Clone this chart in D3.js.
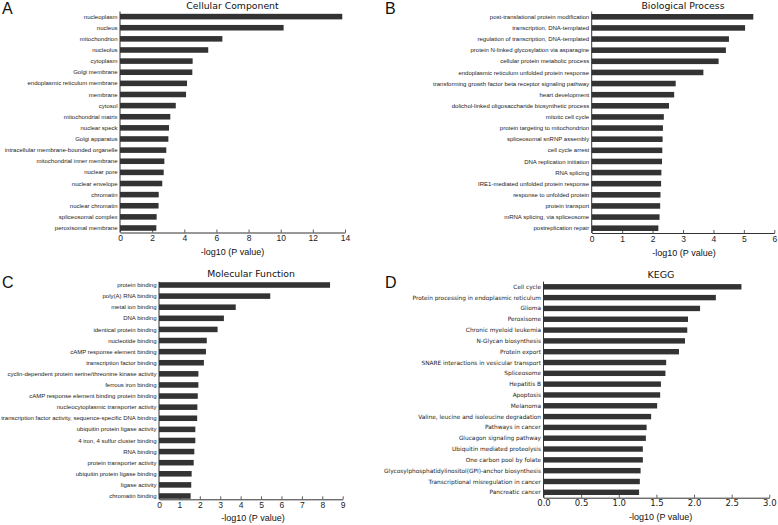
<!DOCTYPE html>
<html><head><meta charset="utf-8">
<script src="https://cdn.jsdelivr.net/npm/d3@7"></script>
<style>body{margin:0;background:#fff}svg{display:block}</style>
</head><body>
<svg id="chart" width="778" height="525"></svg>
<script>
// ---------- DATA ----------
const ccTerms = ["nucleoplasm","nucleus","mitochondrion","nucleolus","cytoplasm","Golgi membrane","endoplasmic reticulum membrane","membrane","cytosol","mitochondrial matrix","nuclear speck","Golgi apparatus","intracellular membrane-bounded organelle","mitochondrial inner membrane","nuclear pore","nuclear envelope","chromatin","nuclear chromatin","spliceosomal complex","peroxisomal membrane"];
const ccValues = [13.83,10.18,6.37,5.49,4.52,4.50,4.17,4.11,3.47,3.13,3.05,3.01,2.88,2.76,2.72,2.63,2.41,2.40,2.28,2.26];
const ccTicks = [0,2,4,6,8,10,12,14];

const bpTerms = ["post-translational protein modification","transcription, DNA-templated","regulation of transcription, DNA-templated","protein N-linked glycosylation via asparagine","cellular protein metabolic process","endoplasmic reticulum unfolded protein response","transforming growth factor beta receptor signaling pathway","heart development","dolichol-linked oligosaccharide biosynthetic process","mitotic cell cycle","protein targeting to mitochondrion","spliceosomal snRNP assembly","cell cycle arrest","DNA replication initiation","RNA splicing","IRE1-mediated unfolded protein response","response to unfolded protein","protein transport","mRNA splicing, via spliceosome","postreplication repair"];
const bpValues = [5.31,5.04,4.51,4.41,4.17,3.67,2.76,2.71,2.54,2.37,2.34,2.33,2.32,2.31,2.29,2.28,2.26,2.25,2.23,2.19];
const bpTicks = [0,1,2,3,4,5,6];

const mfTerms = ["protein binding","poly(A) RNA binding","metal ion binding","DNA binding","identical protein binding","nucleotide binding","cAMP response element binding","transcription factor binding","cyclin-dependent protein serine/threonine kinase activity","ferrous iron binding","cAMP response element binding protein binding","nucleocytoplasmic transporter activity","transcription factor activity, sequence-specific DNA binding","ubiquitin protein ligase activity","4 iron, 4 sulfur cluster binding","RNA binding","protein transporter activity","ubiquitin protein ligase binding","ligase activity","chromatin binding"];
const mfValues = [8.38,5.45,3.76,3.18,2.87,2.34,2.30,2.20,1.93,1.93,1.90,1.88,1.87,1.78,1.78,1.73,1.70,1.60,1.58,1.55];
const mfTicks = [0,1,2,3,4,5,6,7,8,9];

const keggTerms = ["Cell cycle","Protein processing in endoplasmic reticulum","Glioma","Peroxisome","Chronic myeloid leukemia","N-Glycan biosynthesis","Protein export","SNARE interactions in vesicular transport","Spliceosome","Hepatitis B","Apoptosis","Melanoma","Valine, leucine and isoleucine degradation","Pathways in cancer","Glucagon signaling pathway","Ubiquitin mediated proteolysis","One carbon pool by folate","Glycosylphosphatidylinositol(GPI)-anchor biosynthesis","Transcriptional misregulation in cancer","Pancreatic cancer"];
const keggValues = [2.63,2.29,2.08,1.92,1.91,1.88,1.80,1.63,1.62,1.56,1.55,1.51,1.43,1.37,1.36,1.32,1.32,1.29,1.28,1.27];
const keggTicks = [0,0.5,1.0,1.5,2.0,2.5,3.0];

const xLabelText = "-log10 (P value)";

// ---------- LAYOUT ----------
const svg = d3.select("#chart");
const BAR = "#333333";
const INK = "#333333";

const panels = [
  {letter:"A", lx:2, ly:14, title:"Cellular Component", terms:ccTerms, values:ccValues, ticks:ccTicks, fmt:d3.format("d"),
   x0:120, x1:345, yTop:11.5, yFirst:16.6, yLast:228, yAxis:232.5, titleX:232.5, titleY:9, titleSize:9.3,
   labelFont:"Liberation Sans, Arial, sans-serif", labelSize:6, tickFont:"Liberation Sans, Arial, sans-serif",
   xlX:232.5, xlY:255},
  {letter:"B", lx:385, ly:14, title:"Biological Process", terms:bpTerms, values:bpValues, ticks:bpTicks, fmt:d3.format("d"),
   x0:591.7, x1:774.3, yTop:11.5, yFirst:16.8, yLast:228.2, yAxis:233, titleX:683, titleY:9, titleSize:9.3,
   labelFont:"Liberation Sans, Arial, sans-serif", labelSize:6, tickFont:"Liberation Sans, Arial, sans-serif",
   xlX:684, xlY:256},
  {letter:"C", lx:2, ly:288, title:"Molecular Function", terms:mfTerms, values:mfValues, ticks:mfTicks, fmt:d3.format("d"),
   x0:159, x1:342.7, yTop:281.7, yFirst:285, yLast:496, yAxis:499.3, titleX:251, titleY:277, titleSize:9.3,
   labelFont:"Liberation Sans, Arial, sans-serif", labelSize:6, tickFont:"Liberation Sans, Arial, sans-serif",
   xlX:253, xlY:521},
  {letter:"D", lx:385, ly:288, title:"KEGG", terms:keggTerms, values:keggValues, ticks:keggTicks, fmt:d3.format(".1f"),
   x0:543.5, x1:769.3, yTop:281.7, yFirst:286.8, yLast:492.3, yAxis:497.7, titleX:661, titleY:278, titleSize:9.5,
   labelFont:"DejaVu Sans, sans-serif", labelSize:5.8, tickFont:"DejaVu Sans, sans-serif",
   xlX:660.7, xlY:520}
];

panels.forEach(p => {
  const g = svg.append("g");
  const maxV = p.ticks[p.ticks.length-1];
  const x = d3.scaleLinear().domain([0, maxV]).range([p.x0, p.x1]);
  const n = p.terms.length;
  const step = (p.yLast - p.yFirst) / (n - 1);
  const y = d3.scaleBand().domain(p.terms)
    .range([p.yFirst - step/2, p.yLast + step/2])
    .paddingInner(0.5).paddingOuter(0.25);

  // bars
  g.selectAll("rect.bar").data(p.terms).join("rect")
    .attr("class","bar")
    .attr("x", x(0))
    .attr("y", d => y(d))
    .attr("height", y.bandwidth())
    .attr("width", (d,i) => x(p.values[i]) - x(0))
    .attr("fill", BAR);

  // category labels
  g.selectAll("text.cat").data(p.terms).join("text")
    .attr("class","cat")
    .attr("x", p.x0 - 2.5)
    .attr("y", d => y(d) + y.bandwidth()/2)
    .attr("dy","0.35em")
    .attr("text-anchor","end")
    .attr("font-family", p.labelFont)
    .attr("font-size", p.labelSize)
    .attr("fill", "#222")
    .text(d => d);

  // y spine
  g.append("line")
    .attr("x1", p.x0).attr("x2", p.x0)
    .attr("y1", p.yTop).attr("y2", p.yAxis)
    .attr("stroke", INK).attr("stroke-width", 1);

  // x axis
  const ax = g.append("g").attr("transform", `translate(0,${p.yAxis})`)
    .call(d3.axisBottom(x).tickValues(p.ticks).tickFormat(p.fmt).tickSize(-3).tickSizeOuter(0).tickPadding(2.5));
  ax.select(".domain").attr("stroke", INK).attr("stroke-width", 1);
  ax.selectAll(".tick line").attr("stroke", INK).attr("stroke-width", 0.8);
  ax.selectAll(".tick text").attr("font-family", p.tickFont).attr("font-size", 8.5).attr("fill","#222");

  // title
  g.append("text").attr("x", p.titleX).attr("y", p.titleY)
    .attr("text-anchor","middle").attr("font-family","DejaVu Sans, sans-serif")
    .attr("font-size", p.titleSize).attr("fill","#111").text(p.title);

  // x label
  g.append("text").attr("x", p.xlX).attr("y", p.xlY)
    .attr("text-anchor","middle").attr("font-family","Liberation Sans, Arial, sans-serif")
    .attr("font-size", 9).attr("fill","#111").text(xLabelText);

  // panel letter
  g.append("text").attr("x", p.lx).attr("y", p.ly)
    .attr("font-family","Liberation Sans, Arial, sans-serif")
    .attr("font-size", 16).attr("fill","#111").text(p.letter);
});
</script>
</body></html>
